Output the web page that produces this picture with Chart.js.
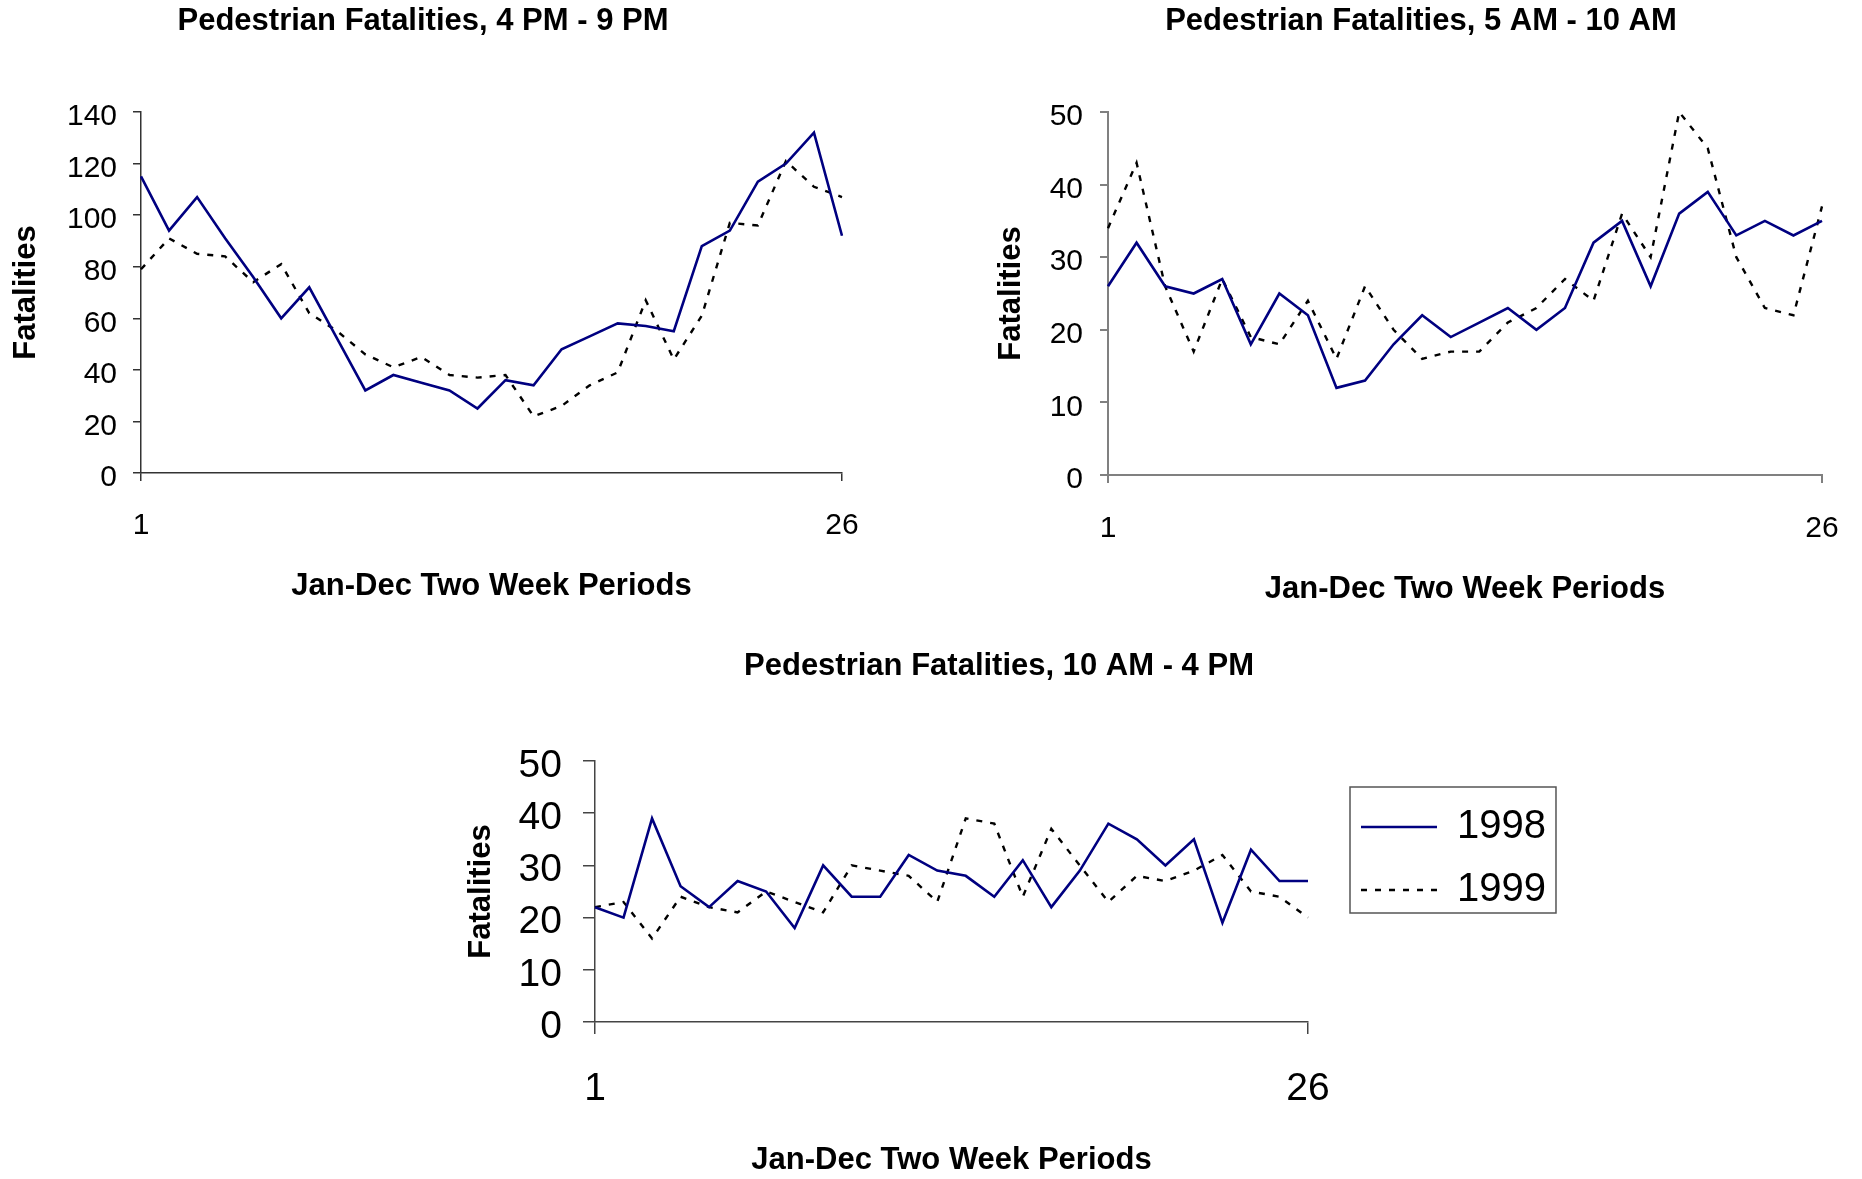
<!DOCTYPE html>
<html>
<head>
<meta charset="utf-8">
<title>Pedestrian Fatalities</title>
<script src="https://cdn.jsdelivr.net/npm/chart.js@4.4.1/dist/chart.umd.min.js"></script>
<style>
  html, body { margin: 0; padding: 0; background: #fff; overflow: hidden; }
  body { width: 1862px; height: 1179px; position: relative; }
  canvas { position: absolute; }
  #evening { left: -17px; top: 0; }
  #morning { left: 980px; top: 0; }
  #midday { left: 269px; top: 620px; }
</style>
</head>
<body>
<canvas id="evening" width="880" height="620"></canvas>
<canvas id="morning" width="882" height="620"></canvas>
<canvas id="midday" width="1460" height="559"></canvas>
<script>
// two-week periods, Jan-Dec
const periods = ['1', '2', '3', '4', '5', '6', '7', '8', '9', '10', '11', '12', '13',
                 '14', '15', '16', '17', '18', '19', '20', '21', '22', '23', '24', '25', '26'];

// 4 PM - 9 PM
const evening1998 = [115, 94, 107, 91, 76, 60, 72, 52, 32, 38, 35, 32, 25, 36, 34, 48, 53, 58, 57, 55, 88, 94, 113, 120, 132, 92];
const evening1999 = [79, 91, 85, 84, 74, 81, 62, 55, 46, 41, 45, 38, 37, 38, 22, 26, 34, 39, 67, 44, 61, 97, 96, 121, 111, 107];

// 5 AM - 10 AM
const morning1998 = [26, 32, 26, 25, 27, 18, 25, 22, 12, 13, 18, 22, 19, 21, 23, 20, 23, 32, 35, 26, 36, 39, 33, 35, 33, 35];
const morning1999 = [34, 43, 26, 17, 27, 19, 18, 24, 16, 26, 20, 16, 17, 17, 21, 23, 27, 24, 36, 30, 50, 45, 30, 23, 22, 37];

// 10 AM - 4 PM
const midday1998 = [22, 20, 39, 26, 22, 27, 25, 18, 30, 24, 24, 32, 29, 28, 24, 31, 22, 29, 38, 35, 30, 35, 19, 33, 27, 27];
const midday1999 = [22, 23, 16, 24, 22, 21, 25, 23, 21, 30, 29, 28, 23, 39, 38, 24, 37, 30, 23, 28, 27, 29, 32, 25, 24, 20];

const seriesNames = ['1998', '1999'];
const eveningTicks = { max: 140, step: 20 };
const morningTicks = { max: 50, step: 10 };
const middayTicks = { max: 50, step: 10 };

const FONT = "'Liberation Sans', Arial, Helvetica, sans-serif";
Chart.defaults.font.family = FONT;
Chart.defaults.color = '#000';

// frame drawn round the legend (Excel style)
const legendFrame = {
  id: 'legendFrame',
  afterDraw(chart) {
    const lg = chart.legend;
    if (!lg || !lg.options.display || !lg.legendHitBoxes.length) return;
    const boxes = lg.legendHitBoxes;
    const left = Math.min(...boxes.map(b => b.left)) - 11;
    const top = Math.min(...boxes.map(b => b.top)) - 20;
    const right = Math.max(...boxes.map(b => b.left + b.width)) + 10;
    const bottom = Math.max(...boxes.map(b => b.top + b.height)) + 3;
    const ctx = chart.ctx;
    ctx.save();
    ctx.strokeStyle = '#555';
    ctx.lineWidth = 1.5;
    ctx.strokeRect(left, top, right - left, bottom - top);
    ctx.restore();
  }
};

// legend samples should look like the lines, not like the (hidden) points
function lineLegendLabels(chart) {
  const items = Chart.defaults.plugins.legend.labels.generateLabels(chart);
  items.forEach(it => {
    const ds = chart.data.datasets[it.datasetIndex];
    it.lineDash = ds.borderDash || [];
    it.lineWidth = ds.borderWidth;
    it.strokeStyle = ds.borderColor;
  });
  return items;
}

function lineChart(id, o) {
  const last = periods.length - 1;
  const edgeTick = ctx => (ctx.index === 0 || ctx.index === last) ? o.axisColor : 'rgba(0,0,0,0)';

  const scales = {
    x: {
      type: 'category',
      offset: false,
      grid: { drawOnChartArea: false, tickLength: o.tick, color: edgeTick, lineWidth: o.axisWidth },
      border: { color: o.axisColor, width: o.axisWidth },
      ticks: {
        autoSkip: false, maxRotation: 0, padding: o.xPad, font: { size: o.tickSize },
        callback(v, i) { return (i === 0 || i === last) ? this.getLabelForValue(v) : ''; }
      },
      title: {
        display: true, text: 'Jan-Dec Two Week Periods',
        font: { size: 31, weight: 'bold' }, padding: { top: 0, bottom: o.xTitlePad }
      },
      afterFit(s) { s.height = o.xHeight; s.paddingLeft = 0; s.paddingRight = o.rightSpace; }
    },
    y: {
      min: 0, max: o.yTicks.max,
      grid: { drawOnChartArea: false, tickLength: o.tick, color: o.axisColor, lineWidth: o.axisWidth },
      border: { color: o.axisColor, width: o.axisWidth },
      ticks: { stepSize: o.yTicks.step, padding: o.yPad, labelOffset: 5, font: { size: o.tickSize } },
      title: {
        display: true, text: 'Fatalities',
        font: { size: 31, weight: 'bold' }, padding: { top: o.yTitlePad, bottom: 0 }
      },
      afterFit(s) { s.width = o.yWidth; s.paddingTop = 0; s.paddingBottom = 0; }
    }
  };

  if (o.legend) {
    // empty gap between the plot and the legend
    scales.gap = {
      type: 'linear', position: 'right', display: true,
      grid: { display: false }, border: { display: false }, ticks: { display: false },
      afterFit(s) { s.width = 30; }
    };
  }

  return new Chart(document.getElementById(id), {
    type: 'line',
    data: {
      labels: periods,
      datasets: [
        { label: seriesNames[0], data: o.a, borderColor: '#000080', backgroundColor: '#000080',
          borderWidth: 2.6, pointRadius: 0, tension: 0 },
        { label: seriesNames[1], data: o.b, borderColor: '#000', backgroundColor: '#000',
          borderWidth: 2.4, borderDash: [6, 8], pointRadius: 0, tension: 0 }
      ]
    },
    options: {
      responsive: false,
      animation: false,
      events: [],
      layout: { padding: 0 },
      scales: scales,
      plugins: {
        title: {
          display: true, text: o.title,
          font: { size: 31, weight: 'bold' },
          padding: { top: o.titleTop, bottom: o.titleBottom }
        },
        legend: o.legend ? {
          display: true, position: 'right', align: 'start', fullSize: false,
          title: { display: true, text: '', font: { size: 1 }, padding: { top: 21.8, bottom: 0 } },
          labels: {
            usePointStyle: true, pointStyle: 'line', pointStyleWidth: 76,
            padding: 23, font: { size: 40 }, color: '#000',
            generateLabels: lineLegendLabels
          }
        } : { display: false },
        tooltip: { enabled: false }
      }
    },
    plugins: o.legend ? [legendFrame] : []
  });
}

lineChart('evening', {
  title: 'Pedestrian Fatalities, 4 PM - 9 PM',
  a: evening1998, b: evening1999, yTicks: eveningTicks,
  axisColor: '#333', axisWidth: 1.5, tick: 8, tickSize: 30,
  yWidth: 158, xHeight: 147, rightSpace: 21,
  titleTop: 3, titleBottom: 71.8, yTitlePad: 24.4, xTitlePad: 15.4,
  yPad: 16, xPad: 26.7
});

lineChart('morning', {
  title: 'Pedestrian Fatalities, 5 AM - 10 AM',
  a: morning1998, b: morning1999, yTicks: morningTicks,
  axisColor: '#808080', axisWidth: 2, tick: 8, tickSize: 30,
  yWidth: 128, xHeight: 145, rightSpace: 40,
  titleTop: 3, titleBottom: 71.8, yTitlePad: 12.4, xTitlePad: 12.4,
  yPad: 17, xPad: 27.7
});

lineChart('midday', {
  title: 'Pedestrian Fatalities, 10 AM - 4 PM',
  a: midday1998, b: midday1999, yTicks: middayTicks,
  axisColor: '#444', axisWidth: 1.5, tick: 12, tickSize: 39,
  yWidth: 326, xHeight: 157, rightSpace: 421,
  titleTop: 27.4, titleBottom: 76.4, yTitlePad: 193.4, xTitlePad: 0,
  yPad: 21, xPad: 31.6, legend: true
});
</script>
</body>
</html>
